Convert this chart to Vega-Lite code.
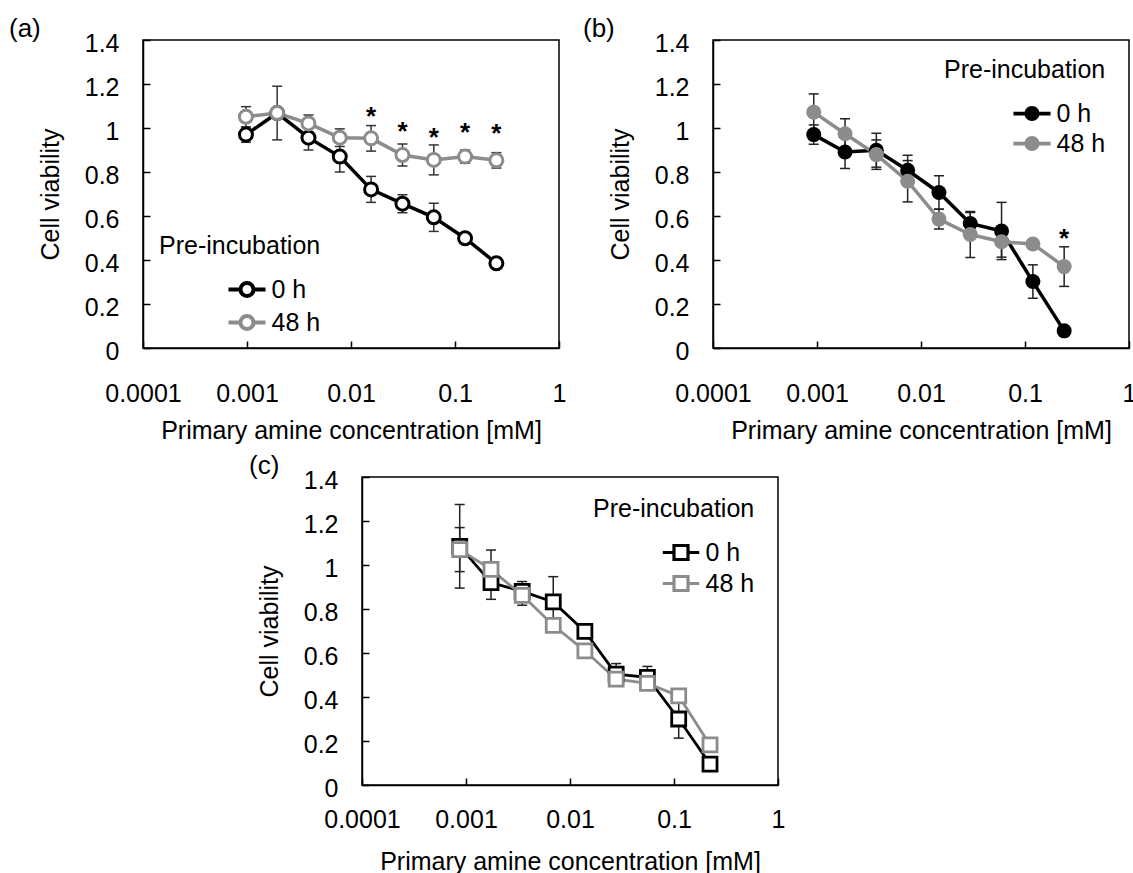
{
  "$schema": "https://vega.github.io/schema/vega-lite/v6.json",
  "background": "white",
  "padding": {"left": 8, "top": 15, "right": 0, "bottom": 0},
  "datasets": {
    "a": [
      {"conc": 0.000977, "time": "0 h", "v": 0.970, "lo": 0.935, "hi": 1.005},
      {"conc": 0.00195, "time": "0 h", "v": 1.068, "lo": 0.946, "hi": 1.190},
      {"conc": 0.0039, "time": "0 h", "v": 0.956, "lo": 0.900, "hi": 1.012},
      {"conc": 0.0078, "time": "0 h", "v": 0.870, "lo": 0.800, "hi": 0.940},
      {"conc": 0.0156, "time": "0 h", "v": 0.721, "lo": 0.662, "hi": 0.780},
      {"conc": 0.03125, "time": "0 h", "v": 0.656, "lo": 0.615, "hi": 0.697},
      {"conc": 0.0625, "time": "0 h", "v": 0.594, "lo": 0.530, "hi": 0.658},
      {"conc": 0.125, "time": "0 h", "v": 0.499, "lo": 0.479, "hi": 0.519},
      {"conc": 0.25, "time": "0 h", "v": 0.385, "lo": 0.370, "hi": 0.400},
      {"conc": 0.000977, "time": "48 h", "v": 1.051, "lo": 1.005, "hi": 1.097},
      {"conc": 0.00195, "time": "48 h", "v": 1.068, "lo": 1.048, "hi": 1.088},
      {"conc": 0.0039, "time": "48 h", "v": 1.021, "lo": 0.983, "hi": 1.059},
      {"conc": 0.0078, "time": "48 h", "v": 0.956, "lo": 0.916, "hi": 0.996},
      {"conc": 0.0156, "time": "48 h", "v": 0.953, "lo": 0.895, "hi": 1.011},
      {"conc": 0.03125, "time": "48 h", "v": 0.877, "lo": 0.827, "hi": 0.927},
      {"conc": 0.0625, "time": "48 h", "v": 0.855, "lo": 0.787, "hi": 0.923},
      {"conc": 0.125, "time": "48 h", "v": 0.870, "lo": 0.840, "hi": 0.900},
      {"conc": 0.25, "time": "48 h", "v": 0.853, "lo": 0.818, "hi": 0.888}
    ],
    "b": [
      {"conc": 0.00093, "time": "0 h", "v": 0.970, "lo": 0.926, "hi": 1.014},
      {"conc": 0.00186, "time": "0 h", "v": 0.891, "lo": 0.816, "hi": 0.966},
      {"conc": 0.00372, "time": "0 h", "v": 0.899, "lo": 0.822, "hi": 0.976},
      {"conc": 0.00744, "time": "0 h", "v": 0.808, "lo": 0.740, "hi": 0.876},
      {"conc": 0.01488, "time": "0 h", "v": 0.707, "lo": 0.631, "hi": 0.783},
      {"conc": 0.02976, "time": "0 h", "v": 0.566, "lo": 0.516, "hi": 0.616},
      {"conc": 0.0595, "time": "0 h", "v": 0.532, "lo": 0.402, "hi": 0.662},
      {"conc": 0.119, "time": "0 h", "v": 0.302, "lo": 0.226, "hi": 0.378},
      {"conc": 0.238, "time": "0 h", "v": 0.078, "lo": 0.068, "hi": 0.088},
      {"conc": 0.00093, "time": "48 h", "v": 1.072, "lo": 0.989, "hi": 1.155},
      {"conc": 0.00186, "time": "48 h", "v": 0.974, "lo": 0.906, "hi": 1.042},
      {"conc": 0.00372, "time": "48 h", "v": 0.879, "lo": 0.812, "hi": 0.946},
      {"conc": 0.00744, "time": "48 h", "v": 0.758, "lo": 0.664, "hi": 0.852},
      {"conc": 0.01488, "time": "48 h", "v": 0.586, "lo": 0.541, "hi": 0.631},
      {"conc": 0.02976, "time": "48 h", "v": 0.516, "lo": 0.411, "hi": 0.621},
      {"conc": 0.0595, "time": "48 h", "v": 0.483, "lo": 0.413, "hi": 0.553},
      {"conc": 0.119, "time": "48 h", "v": 0.473, "lo": 0.463, "hi": 0.483},
      {"conc": 0.238, "time": "48 h", "v": 0.370, "lo": 0.280, "hi": 0.460}
    ],
    "c": [
      {"conc": 0.00087, "time": "0 h", "v": 1.085, "lo": 0.895, "hi": 1.275},
      {"conc": 0.00174, "time": "0 h", "v": 0.920, "lo": 0.844, "hi": 0.996},
      {"conc": 0.00347, "time": "0 h", "v": 0.880, "lo": 0.835, "hi": 0.925},
      {"conc": 0.0069, "time": "0 h", "v": 0.832, "lo": 0.717, "hi": 0.947},
      {"conc": 0.0139, "time": "0 h", "v": 0.698, "lo": 0.678, "hi": 0.718},
      {"conc": 0.0278, "time": "0 h", "v": 0.504, "lo": 0.456, "hi": 0.552},
      {"conc": 0.0555, "time": "0 h", "v": 0.489, "lo": 0.439, "hi": 0.539},
      {"conc": 0.111, "time": "0 h", "v": 0.300, "lo": 0.213, "hi": 0.387},
      {"conc": 0.222, "time": "0 h", "v": 0.095, "lo": 0.085, "hi": 0.105},
      {"conc": 0.00087, "time": "48 h", "v": 1.070, "lo": 0.970, "hi": 1.170},
      {"conc": 0.00174, "time": "48 h", "v": 0.980, "lo": 0.892, "hi": 1.068},
      {"conc": 0.00347, "time": "48 h", "v": 0.862, "lo": 0.817, "hi": 0.907},
      {"conc": 0.0069, "time": "48 h", "v": 0.726, "lo": 0.696, "hi": 0.756},
      {"conc": 0.0139, "time": "48 h", "v": 0.610, "lo": 0.590, "hi": 0.630},
      {"conc": 0.0278, "time": "48 h", "v": 0.481, "lo": 0.461, "hi": 0.501},
      {"conc": 0.0555, "time": "48 h", "v": 0.462, "lo": 0.442, "hi": 0.482},
      {"conc": 0.111, "time": "48 h", "v": 0.405, "lo": 0.385, "hi": 0.425},
      {"conc": 0.222, "time": "48 h", "v": 0.182, "lo": 0.172, "hi": 0.192}
    ],
    "stars_a": [
      {"conc": 0.0156, "v": 1.080},
      {"conc": 0.03125, "v": 1.015},
      {"conc": 0.0625, "v": 0.988},
      {"conc": 0.125, "v": 1.008},
      {"conc": 0.25, "v": 1.003}
    ],
    "stars_b": [
      {"conc": 0.238, "v": 0.529}
    ]
  },
  "spacing": 8,
  "bounds": "full",
  "resolve": {"scale": {"color": "independent"}, "legend": {"color": "independent"}},
  "vconcat": [
    {
      "spacing": 154,
      "bounds": "flush",
      "resolve": {"scale": {"color": "independent"}, "legend": {"color": "independent"}},
      "hconcat": [
        {
          "width": 416, "height": 308,
          "title": {"text": "(a)", "dx": -134, "dy": 15, "offset": 4},
          "data": {"name": "a"},
          "encoding": {"x": {"field": "conc", "type": "quantitative", "scale": {"type": "log", "domain": [0.0001, 1]}, "axis": {"values": [0.0001, 0.001, 0.01, 0.1, 1], "format": "~g", "title": "Primary amine concentration [mM]"}}},
          "layer": [
            {"mark": {"type": "rule", "color": "#333", "strokeWidth": 1.5}, "encoding": {"y": {"field": "lo", "type": "quantitative", "scale": {"domain": [0, 1.4], "nice": false, "zero": false}, "axis": {"values": [0, 0.2, 0.4, 0.6, 0.8, 1, 1.2, 1.4], "format": "~g", "title": "Cell viability"}}, "y2": {"field": "hi"}}},
            {"mark": {"type": "tick", "orient": "horizontal", "color": "#333", "size": 10, "thickness": 1.5, "opacity": 1}, "encoding": {"y": {"field": "lo", "type": "quantitative"}}},
            {"mark": {"type": "tick", "orient": "horizontal", "color": "#333", "size": 10, "thickness": 1.5, "opacity": 1}, "encoding": {"y": {"field": "hi", "type": "quantitative"}}},
            {"mark": {"type": "line", "strokeWidth": 3.5}, "encoding": {"y": {"field": "v", "type": "quantitative"}, "color": {"field": "time", "type": "nominal", "scale": {"domain": ["0 h", "48 h"], "range": ["#000000", "#8c8c8c"]}, "legend": {"title": "Pre-incubation", "orient": "none", "legendX": 16, "legendY": 194, "symbolType": "M-2.85,0H-1M1,0H2.85M1,0A1,1 0 1,1 -1,0A1,1 0 1,1 1,0Z", "symbolSize": 169, "symbolStrokeWidth": 4, "symbolFillColor": "white", "symbolOffset": 75.5, "labelOffset": 12}}}},
            {"mark": {"type": "point", "filled": false, "fill": "white", "size": 169, "strokeWidth": 3, "opacity": 1}, "encoding": {"y": {"field": "v", "type": "quantitative"}, "color": {"field": "time", "type": "nominal", "legend": {"title": "Pre-incubation", "orient": "none", "legendX": 16, "legendY": 194, "symbolType": "M-2.85,0H-1M1,0H2.85M1,0A1,1 0 1,1 -1,0A1,1 0 1,1 1,0Z", "symbolSize": 169, "symbolStrokeWidth": 4, "symbolFillColor": "white", "symbolOffset": 75.5, "labelOffset": 12}}}},
            {"data": {"name": "stars_a"}, "mark": {"type": "text", "text": "*", "fontSize": 26, "fontWeight": "bold", "dy": 15, "baseline": "alphabetic", "color": "#000"}, "encoding": {"y": {"field": "v", "type": "quantitative"}}}
          ]
        },
        {
          "width": 416, "height": 308,
          "title": {"text": "(b)", "dx": -130, "dy": 15, "offset": 4},
          "data": {"name": "b"},
          "encoding": {"x": {"field": "conc", "type": "quantitative", "scale": {"type": "log", "domain": [0.0001, 1]}, "axis": {"values": [0.0001, 0.001, 0.01, 0.1, 1], "format": "~g", "title": "Primary amine concentration [mM]"}}},
          "layer": [
            {"mark": {"type": "rule", "color": "#222", "strokeWidth": 1.5}, "encoding": {"y": {"field": "lo", "type": "quantitative", "scale": {"domain": [0, 1.4], "nice": false, "zero": false}, "axis": {"values": [0, 0.2, 0.4, 0.6, 0.8, 1, 1.2, 1.4], "format": "~g", "title": "Cell viability"}}, "y2": {"field": "hi"}}},
            {"mark": {"type": "tick", "orient": "horizontal", "color": "#222", "size": 10, "thickness": 1.5, "opacity": 1}, "encoding": {"y": {"field": "lo", "type": "quantitative"}}},
            {"mark": {"type": "tick", "orient": "horizontal", "color": "#222", "size": 10, "thickness": 1.5, "opacity": 1}, "encoding": {"y": {"field": "hi", "type": "quantitative"}}},
            {"mark": {"type": "line", "strokeWidth": 3.5}, "encoding": {"y": {"field": "v", "type": "quantitative"}, "color": {"field": "time", "type": "nominal", "scale": {"domain": ["0 h", "48 h"], "range": ["#000000", "#8c8c8c"]}, "legend": {"title": "Pre-incubation", "orient": "none", "legendX": 231, "legendY": 18, "symbolType": "M-2.47,-0.25H-0.9V0.25H-2.47Z M0.9,-0.25H2.47V0.25H0.9Z M1,0A1,1 0 1,1 -1,0A1,1 0 1,1 1,0Z", "symbolSize": 225, "symbolStrokeWidth": 0, "symbolOffset": 75.5, "labelOffset": 12}}}},
            {"mark": {"type": "point", "filled": true, "size": 225, "opacity": 1}, "encoding": {"y": {"field": "v", "type": "quantitative"}, "color": {"field": "time", "type": "nominal", "legend": {"title": "Pre-incubation", "orient": "none", "legendX": 231, "legendY": 18, "symbolType": "M-2.47,-0.25H-0.9V0.25H-2.47Z M0.9,-0.25H2.47V0.25H0.9Z M1,0A1,1 0 1,1 -1,0A1,1 0 1,1 1,0Z", "symbolSize": 225, "symbolStrokeWidth": 0, "symbolOffset": 75.5, "labelOffset": 12}}}},
            {"data": {"name": "stars_b"}, "mark": {"type": "text", "text": "*", "fontSize": 26, "fontWeight": "bold", "dy": 15, "baseline": "alphabetic", "color": "#000"}, "encoding": {"y": {"field": "v", "type": "quantitative"}}}
          ]
        }
      ]
    },
    {
      "spacing": 154,
      "bounds": "flush",
      "resolve": {"scale": {"color": "independent"}, "legend": {"color": "independent"}},
      "hconcat": [
        {
          "width": 65, "height": 308,
          "data": {"values": [{}]},
          "mark": {"type": "text", "text": ""},
          "encoding": {},
          "view": {"stroke": null}
        },
        {
          "width": 416, "height": 308,
          "title": {"text": "(c)", "dx": -113, "dy": 15, "offset": 4},
          "data": {"name": "c"},
          "encoding": {"x": {"field": "conc", "type": "quantitative", "scale": {"type": "log", "domain": [0.0001, 1]}, "axis": {"values": [0.0001, 0.001, 0.01, 0.1, 1], "format": "~g", "title": "Primary amine concentration [mM]", "labelPadding": 29, "titlePadding": 17}}},
          "layer": [
            {"mark": {"type": "rule", "color": "#222", "strokeWidth": 1.5}, "encoding": {"y": {"field": "lo", "type": "quantitative", "scale": {"domain": [0, 1.4], "nice": false, "zero": false}, "axis": {"values": [0, 0.2, 0.4, 0.6, 0.8, 1, 1.2, 1.4], "format": "~g", "title": "Cell viability"}}, "y2": {"field": "hi"}}},
            {"mark": {"type": "tick", "orient": "horizontal", "color": "#222", "size": 10, "thickness": 1.5, "opacity": 1}, "encoding": {"y": {"field": "lo", "type": "quantitative"}}},
            {"mark": {"type": "tick", "orient": "horizontal", "color": "#222", "size": 10, "thickness": 1.5, "opacity": 1}, "encoding": {"y": {"field": "hi", "type": "quantitative"}}},
            {"mark": {"type": "line", "strokeWidth": 2.8}, "encoding": {"y": {"field": "v", "type": "quantitative"}, "color": {"field": "time", "type": "nominal", "scale": {"domain": ["0 h", "48 h"], "range": ["#000000", "#8c8c8c"]}, "legend": {"title": "Pre-incubation", "orient": "none", "legendX": 231, "legendY": 20, "symbolType": "M-2.6,0H-1M1,0H2.6M-1,-1H1V1H-1Z", "symbolSize": 196, "symbolStrokeWidth": 3.2, "symbolFillColor": "white", "symbolOffset": 75.5, "labelOffset": 12}}}},
            {"mark": {"type": "point", "shape": "square", "filled": false, "fill": "white", "size": 196, "strokeWidth": 2.8, "opacity": 1}, "encoding": {"y": {"field": "v", "type": "quantitative"}, "color": {"field": "time", "type": "nominal", "legend": {"title": "Pre-incubation", "orient": "none", "legendX": 231, "legendY": 20, "symbolType": "M-2.6,0H-1M1,0H2.6M-1,-1H1V1H-1Z", "symbolSize": 196, "symbolStrokeWidth": 3.2, "symbolFillColor": "white", "symbolOffset": 75.5, "labelOffset": 12}}}}
          ]
        }
      ]
    }
  ],
  "config": {
    "font": "Liberation Sans",
    "view": {"stroke": "#000", "strokeWidth": 1.5},
    "axis": {
      "grid": false, "domainColor": "#000", "domainWidth": 1.5,
      "tickColor": "#000", "tickWidth": 1.5, "tickSize": -7,
      "labelFont": "Liberation Sans", "labelFontSize": 25, "labelColor": "#000",
      "titleFont": "Liberation Sans", "titleFontSize": 25, "titleFontWeight": "normal", "titleColor": "#000",
      "labelOverlap": false, "labelBound": false
    },
    "axisX": {"labelPadding": 40, "titlePadding": 12, "labelFlush": false},
    "axisY": {"labelPadding": 31, "titlePadding": 21, "labelOffset": 3},
    "legend": {
      "titleFont": "Liberation Sans", "titleFontSize": 25, "titleFontWeight": "normal", "titleColor": "#000",
      "labelFont": "Liberation Sans", "labelFontSize": 25, "labelColor": "#000",
      "titlePadding": 18, "rowPadding": 4, "padding": 0, "titleLimit": 300, "labelLimit": 300
    },
    "title": {"font": "Liberation Sans", "fontSize": 26, "fontWeight": "normal", "color": "#000", "anchor": "start", "frame": "group", "baseline": "alphabetic"}
  }
}
